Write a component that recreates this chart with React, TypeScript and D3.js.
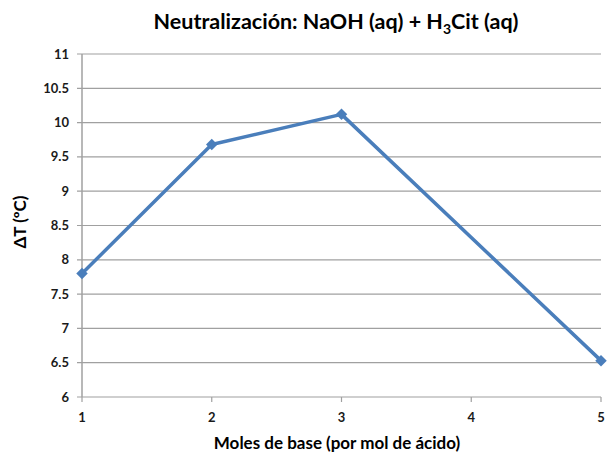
import React from 'react';
import * as d3 from 'd3';

const moles = [1, 2, 3, 5];
const deltaT = [7.8, 9.68, 10.12, 6.53];
const xTicks = [1, 2, 3, 4, 5];
const yTicks = [6, 6.5, 7, 7.5, 8, 8.5, 9, 9.5, 10, 10.5, 11];

const W = 608;
const H = 454;
const margin = { top: 54, right: 7, bottom: 57, left: 82 };
const font = 'Lato, "Open Sans", sans-serif';

const App = () => {
  const x = d3.scaleLinear().domain([1, 5]).range([margin.left, W - margin.right]);
  const y = d3.scaleLinear().domain([6, 11]).range([H - margin.bottom, margin.top]);
  const pts = moles.map((m, i) => [m, deltaT[i]] as [number, number]);
  const line = d3.line<[number, number]>().x(d => x(d[0])).y(d => y(d[1]));
  const marker = d3.symbol().type(d3.symbolSquare).size(66)();

  return (
    <svg width={W} height={H} style={{ position: 'absolute', left: 0, top: 0, background: '#fff' }}>
      {yTicks.map(t => (
        <g key={t}>
          <line x1={x(1) - 5} x2={x(5)} y1={y(t)} y2={y(t)} stroke="#a0a0a0" strokeWidth={1.2} />
          <text x={x(1) - 13} y={y(t)} dy="0.35em" textAnchor="end" fontFamily={font} fontWeight="bold" fontSize={13} fill="#1a1a1a">
            {t}
          </text>
        </g>
      ))}
      <line x1={x(1)} x2={x(1)} y1={y(11)} y2={y(6)} stroke="#a0a0a0" strokeWidth={1.5} />
      {xTicks.map(t => (
        <g key={t}>
          <line x1={x(t)} x2={x(t)} y1={y(6)} y2={y(6) + 5} stroke="#a0a0a0" strokeWidth={1.2} />
          <text x={x(t)} y={y(6) + 25} textAnchor="middle" fontFamily={font} fontWeight="bold" fontSize={13} fill="#1a1a1a">
            {t}
          </text>
        </g>
      ))}
      <path d={line(pts) ?? ''} fill="none" stroke="#4a7ebb" strokeWidth={3.5} strokeLinejoin="round" />
      {pts.map((p, i) => (
        <path key={i} d={marker ?? ''} transform={`translate(${x(p[0])},${y(p[1])}) rotate(45)`} fill="#4a7ebb" />
      ))}
      <text x={336} y={29} textAnchor="middle" fontFamily={font} fontWeight="bold" fontSize={21.5} fill="#000">
        Neutralización: NaOH (aq) + H<tspan fontSize={14} dy={5}>3</tspan><tspan dy={-5}>Cit (aq)</tspan>
      </text>
      <text x={337} y={449} textAnchor="middle" fontFamily={font} fontWeight="bold" fontSize={17} fill="#000">
        Moles de base (por mol de ácido)
      </text>
      <text transform={`translate(26,222) rotate(-90)`} textAnchor="middle" fontFamily={font} fontWeight="bold" fontSize={17} fill="#000">
        ΔT (ºC)
      </text>
    </svg>
  );
};

export default App;
